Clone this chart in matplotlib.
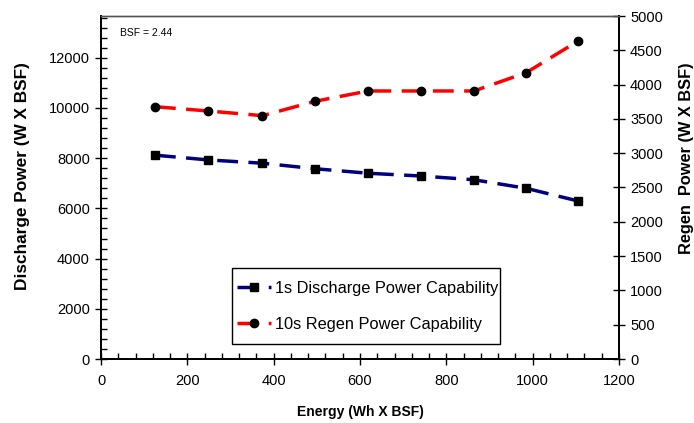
import matplotlib
matplotlib.use("Agg")
import matplotlib.pyplot as plt
from matplotlib.ticker import MultipleLocator
from matplotlib.patches import Rectangle

plt.rcParams['font.family'] = ['Liberation Sans', 'DejaVu Sans']

energy = [125, 249, 374, 496, 619, 741, 864, 985, 1104]
discharge = [8120, 7930, 7800, 7580, 7400, 7290, 7140, 6800, 6300]
regen = [3678, 3615, 3547, 3757, 3907, 3907, 3907, 4174, 4631]

W, H = 694, 423
L, R, T, B = 101, 619, 16, 359

fig = plt.figure(figsize=(W/100, H/100), dpi=100)
ax = fig.add_axes([L/W, 1-B/H, (R-L)/W, (B-T)/H])
ax2 = ax.twinx()

l1, = ax.plot(energy, discharge, color='#000080', lw=2.5, dashes=(6, 3),
              marker='s', markersize=6, markerfacecolor='black', markeredgecolor='black',
              label='1s Discharge Power Capability')
l2, = ax2.plot(energy, regen, color='red', lw=2.5, dashes=(6, 3),
               marker='o', markersize=6, markerfacecolor='black', markeredgecolor='black',
               label='10s Regen Power Capability')

ax.set_xlim(0, 1200)
ax.set_ylim(0, 13664)
ax2.set_ylim(0, 5000)

ax.xaxis.set_major_locator(MultipleLocator(200))
ax.xaxis.set_minor_locator(MultipleLocator(40))
ax.yaxis.set_major_locator(MultipleLocator(2000))
ax.yaxis.set_minor_locator(MultipleLocator(400))
ax2.yaxis.set_major_locator(MultipleLocator(500))
ax2.yaxis.set_minor_locator(plt.NullLocator())

ax.tick_params(axis='both', which='major', direction='inout', length=8, width=1, labelsize=10.5, pad=4)
ax.tick_params(axis='both', which='minor', direction='in', length=4, width=1)
ax.tick_params(axis='x', which='major', pad=7)
ax2.tick_params(axis='y', which='major', direction='inout', length=8, width=1, labelsize=10.5, pad=4)

for a in (ax, ax2):
    a.spines['top'].set_color('#555555')
    a.spines['top'].set_linewidth(1.0)
    a.spines['left'].set_linewidth(1.3)
    a.spines['bottom'].set_linewidth(1.3)
    a.spines['right'].set_linewidth(1.3)

ax.set_xlabel('Energy (Wh X BSF)', fontsize=10, fontweight='bold', labelpad=12)
fig.text(22.5/W, 1-176/H, 'Discharge Power (W X BSF)', rotation=90, ha='center', va='center',
         fontsize=12.4, fontweight='bold')
fig.text(686/W, 1-158/H, 'Regen  Power (W X BSF)', rotation=90, ha='center', va='center',
         fontsize=11.8, fontweight='bold')

ax.text(0.037, 0.95, 'BSF = 2.44', transform=ax.transAxes, fontsize=7.5, va='center', ha='left')

# legend frame
bx0, bx1, by0, by1 = 232, 500, 268, 344
ax2.add_patch(Rectangle(((bx0-L)/(R-L), (B-by1)/(B-T)), (bx1-bx0)/(R-L), (by1-by0)/(B-T),
                        transform=ax2.transAxes, fill=True, facecolor='white',
                        edgecolor='black', lw=1.0, zorder=5))
leg = ax2.legend(handles=[l1, l2], loc='center left',
                 bbox_to_anchor=((237-L)/(R-L), (B-306.5)/(B-T)),
                 fontsize=11.8, frameon=False, borderpad=0, borderaxespad=0,
                 handlelength=2.1, labelspacing=1.3, handletextpad=0.2)
leg.set_zorder(6)

fig.savefig('out.png', dpi=100)
